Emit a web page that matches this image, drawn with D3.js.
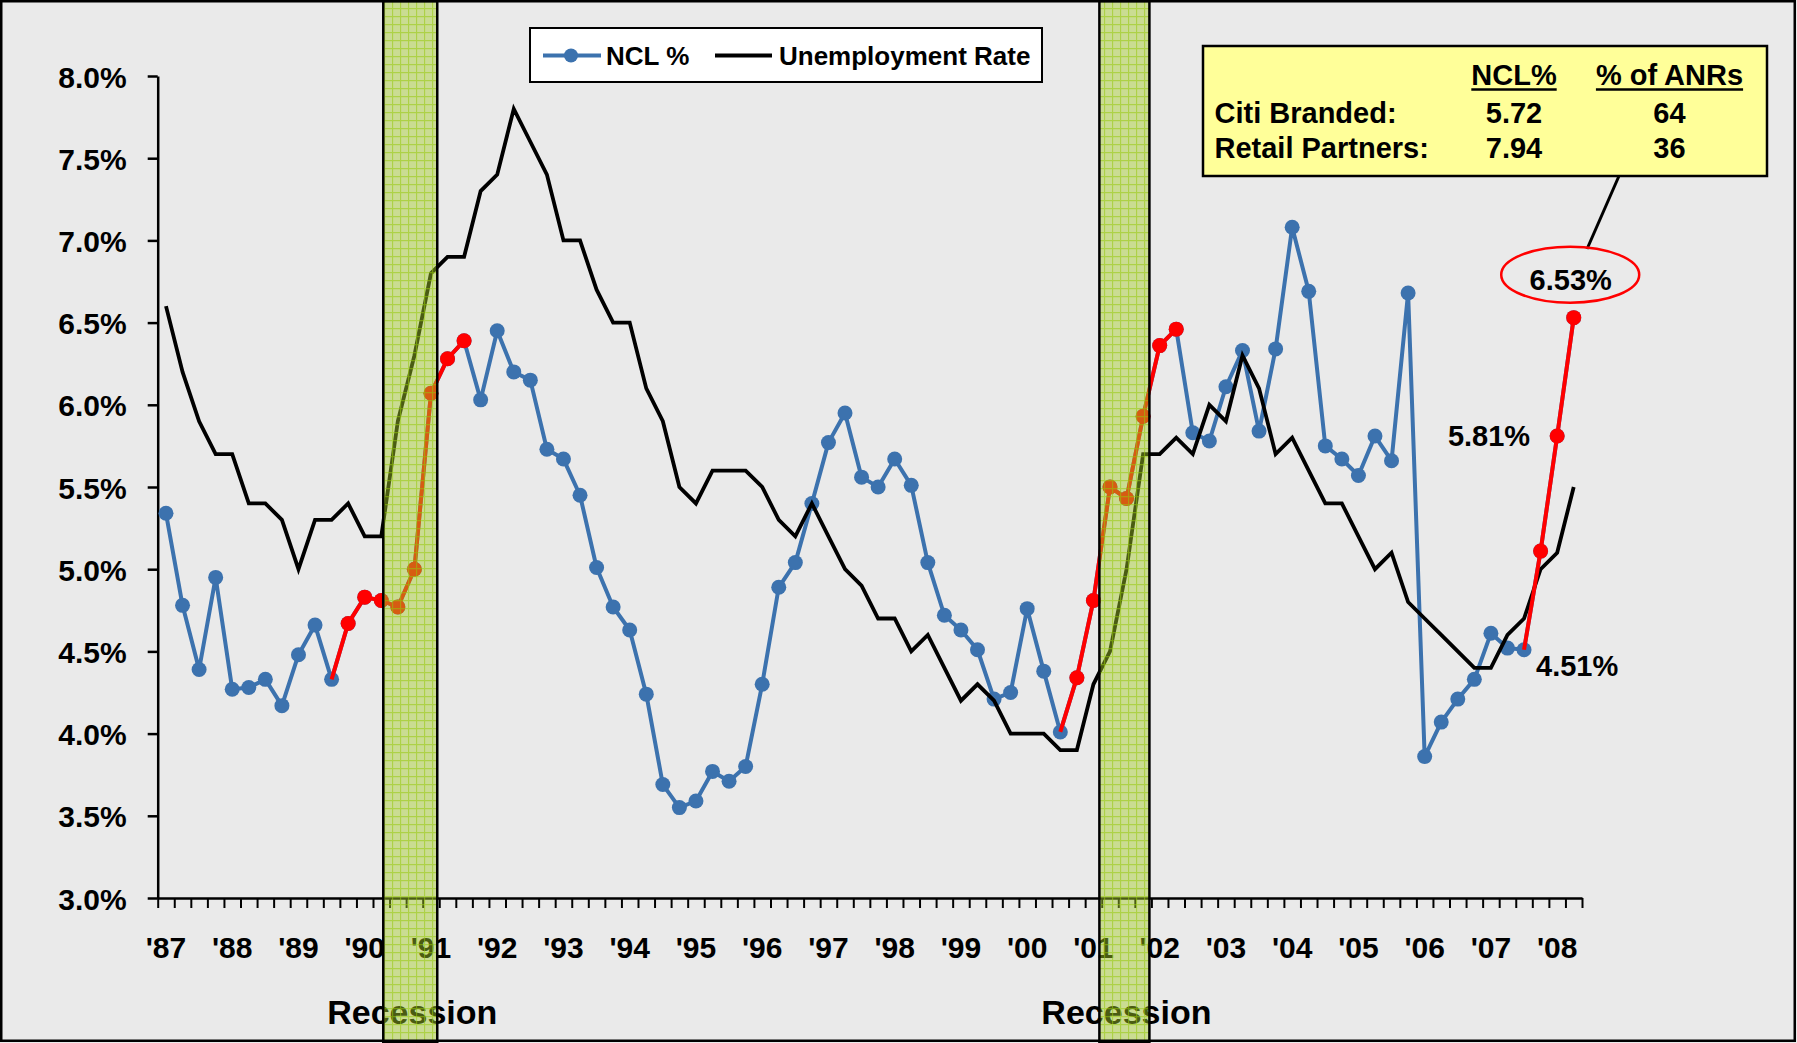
<!DOCTYPE html>
<html>
<head>
<meta charset="utf-8">
<script src="https://cdn.jsdelivr.net/npm/d3@7"></script>
<style>
body { margin: 0; background: #fff; }
text { font-family: "Liberation Sans", Arial, sans-serif; font-weight: bold; fill: #000; }
</style>
</head>
<body>
<div id="chart"></div>
<script>
// year labels, one per year, quarters 1Q87 .. 2Q08
var yearLabels = ["'87","'88","'89","'90","'91","'92","'93","'94","'95","'96","'97",
	"'98","'99","'00","'01","'02","'03","'04","'05","'06","'07","'08"];
var quartersInLastYear = 2;

// NCL % by quarter
var nclPct = [5.34, 4.78, 4.39, 4.95, 4.27, 4.28, 4.33, 4.17, 4.48, 4.66,
	4.33, 4.67, 4.83, 4.81, 4.77, 5.00, 6.07, 6.28, 6.39, 6.03,
	6.45, 6.20, 6.15, 5.73, 5.67, 5.45, 5.01, 4.77, 4.63, 4.24,
	3.69, 3.55, 3.59, 3.77, 3.71, 3.80, 4.30, 4.89, 5.04, 5.40,
	5.77, 5.95, 5.56, 5.50, 5.67, 5.51, 5.04, 4.72, 4.63, 4.51,
	4.21, 4.25, 4.76, 4.38, 4.01, 4.34, 4.81, 5.50, 5.43, 5.93,
	6.36, 6.46, 5.83, 5.78, 6.11, 6.33, 5.84, 6.34, 7.08, 6.69,
	5.75, 5.67, 5.57, 5.81, 5.66, 6.68, 3.86, 4.07, 4.21, 4.33,
	4.61, 4.52, 4.51, 5.11, 5.81, 6.53];

// unemployment rate by quarter
var unemployment = [6.6, 6.2, 5.9, 5.7, 5.7, 5.4, 5.4, 5.3, 5.0, 5.3,
	5.3, 5.4, 5.2, 5.2, 5.9, 6.3, 6.8, 6.9, 6.9, 7.3,
	7.4, 7.8, 7.6, 7.4, 7.0, 7.0, 6.7, 6.5, 6.5, 6.1,
	5.9, 5.5, 5.4, 5.6, 5.6, 5.6, 5.5, 5.3, 5.2, 5.4,
	5.2, 5.0, 4.9, 4.7, 4.7, 4.5, 4.6, 4.4, 4.2, 4.3,
	4.2, 4.0, 4.0, 4.0, 3.9, 3.9, 4.3, 4.5, 5.0, 5.7,
	5.7, 5.8, 5.7, 6.0, 5.9, 6.3, 6.1, 5.7, 5.8, 5.6,
	5.4, 5.4, 5.2, 5.0, 5.1, 4.8, 4.7, 4.6, 4.5, 4.4,
	4.4, 4.6, 4.7, 5.0, 5.1, 5.5];

// highlighted (red) stretches of the NCL line, first/last quarter index
var redRanges = [[10, 18], [54, 61], [82, 85]];

// recession shading, in quarters from the start of '87
var recessions = [[13.62, 16.88], [56.86, 59.88]];

var yTicks = [3.0, 3.5, 4.0, 4.5, 5.0, 5.5, 6.0, 6.5, 7.0, 7.5, 8.0];

// callout box
var boxHeader = ["NCL%", "% of ANRs"];
var boxRows = [["Citi Branded:", "5.72", "64"], ["Retail Partners:", "7.94", "36"]];

var quarters = [];
yearLabels.forEach(function(yl, k) {
	var n = (k == yearLabels.length - 1) ? quartersInLastYear : 4;
	for (var q = 1; q <= n; q++) quarters.push(q + "Q" + yl.slice(1));
});

var W = 1797, H = 1043;
var x0 = 157.7, x1 = 1582, yTop = 76, yBot = 898;

var svg = d3.select("#chart").append("svg")
	.attr("width", W).attr("height", H);

var defs = svg.append("defs");
var pat = defs.append("pattern").attr("id", "grid")
	.attr("width", 8).attr("height", 8).attr("patternUnits", "userSpaceOnUse");
pat.append("rect").attr("width", 8).attr("height", 8).attr("fill", "rgba(165,205,40,0.45)");
pat.append("path").attr("d", "M0,0.5H8M0.5,0V8")
	.attr("stroke", "rgba(150,200,10,0.55)").attr("stroke-width", 1.3);

svg.append("rect").attr("width", W).attr("height", H).attr("fill", "#eaeaea");

var x = d3.scaleBand().domain(quarters).range([x0, x1]);
var xq = d3.scaleLinear().domain([0, quarters.length]).range([x0, x1]);
var y = d3.scaleLinear().domain([3, 8]).range([yBot, yTop]);

function cx(i) { return x(quarters[i]) + x.bandwidth() / 2; }

// y axis
var yAxis = svg.append("g").attr("transform", "translate(" + x0 + ",0)")
	.call(d3.axisLeft(y).tickValues(yTicks).tickSize(10).tickSizeOuter(0).tickPadding(21)
		.tickFormat(function(d) { return d.toFixed(1) + "%"; }));
yAxis.selectAll("text").style("font-size", "30px").attr("dy", "0.37em");
yAxis.select(".domain").attr("stroke-width", 2.5);
yAxis.selectAll(".tick line").attr("stroke-width", 2.5);

// x axis: a tick at every quarter boundary
var xAxis = svg.append("g").attr("transform", "translate(0," + yBot + ")")
	.call(d3.axisBottom(xq).tickValues(d3.range(quarters.length + 1)).tickSize(10)
		.tickSizeOuter(0).tickFormat(""));
xAxis.select(".domain").attr("stroke-width", 2.5);
xAxis.selectAll(".tick line").attr("stroke-width", 2);

svg.append("g").selectAll("text")
	.data(yearLabels)
	.enter().append("text")
	.attr("x", function(d, k) { return cx(k * 4); })
	.attr("y", 958)
	.attr("text-anchor", "middle")
	.style("font-size", "30px")
	.text(function(d) { return d; });

// legend
var lg = svg.append("g");
lg.append("rect").attr("x", 530).attr("y", 28).attr("width", 512).attr("height", 54)
	.attr("fill", "#fff").attr("stroke", "#000").attr("stroke-width", 2);
lg.append("line").attr("x1", 543).attr("x2", 601).attr("y1", 55.5).attr("y2", 55.5)
	.attr("stroke", "#3c72ae").attr("stroke-width", 4);
lg.append("circle").attr("cx", 571).attr("cy", 55.5).attr("r", 7).attr("fill", "#3c72ae");
lg.append("text").attr("x", 606).attr("y", 64.5).style("font-size", "26px").text("NCL %");
lg.append("line").attr("x1", 715).attr("x2", 772).attr("y1", 55.5).attr("y2", 55.5)
	.attr("stroke", "#000").attr("stroke-width", 4);
lg.append("text").attr("x", 779).attr("y", 64.5).style("font-size", "26px").text("Unemployment Rate");

// NCL line (blue)
var lineNcl = d3.line().x(function(d, i) { return cx(i); }).y(function(d) { return y(d); });
svg.append("path").datum(nclPct).attr("d", lineNcl)
	.attr("fill", "none").attr("stroke", "#3c72ae").attr("stroke-width", 4)
	.attr("stroke-linejoin", "round");
svg.append("g").selectAll("circle").data(nclPct).enter().append("circle")
	.attr("cx", function(d, i) { return cx(i); })
	.attr("cy", function(d) { return y(d); })
	.attr("r", 7.5).attr("fill", "#3c72ae");

// unemployment line (black)
svg.append("path").datum(unemployment).attr("d", lineNcl)
	.attr("fill", "none").attr("stroke", "#000").attr("stroke-width", 3.8)
	.attr("stroke-linejoin", "miter");

// red stretches
redRanges.forEach(function(r) {
	var idx = d3.range(r[0], r[1] + 1);
	var seg = d3.line().x(function(i) { return cx(i); }).y(function(i) { return y(nclPct[i]); });
	svg.append("path").datum(idx).attr("d", seg)
		.attr("fill", "none").attr("stroke", "#ff0000").attr("stroke-width", 4);
	svg.append("g").selectAll("circle").data(idx.slice(1)).enter().append("circle")
		.attr("cx", function(i) { return cx(i); })
		.attr("cy", function(i) { return y(nclPct[i]); })
		.attr("r", 7.5).attr("fill", "#ff0000");
});

// value labels
var last = nclPct.length - 1;
svg.append("text").attr("x", cx(last - 1) - 27).attr("y", y(nclPct[last - 1]) + 10)
	.attr("text-anchor", "end").style("font-size", "29px").text(nclPct[last - 1].toFixed(2) + "%");
svg.append("text").attr("x", cx(last - 3) + 12).attr("y", y(nclPct[last - 3]) + 26)
	.style("font-size", "29px").text(nclPct[last - 3].toFixed(2) + "%");

// callout box
var bx = svg.append("g");
bx.append("line").attr("x1", 1619).attr("y1", 176).attr("x2", 1587).attr("y2", 249)
	.attr("stroke", "#000").attr("stroke-width", 3);
bx.append("rect").attr("x", 1203).attr("y", 46).attr("width", 564).attr("height", 130)
	.attr("fill", "#ffff99").attr("stroke", "#000").attr("stroke-width", 2.5);
var colX = [1214.5, 1514, 1669.5];
boxHeader.forEach(function(h, k) {
	var t = bx.append("text").attr("x", colX[k + 1]).attr("y", 85)
		.attr("text-anchor", "middle").style("font-size", "29px").text(h);
	var w = t.node().getComputedTextLength();
	bx.append("line").attr("x1", colX[k + 1] - w / 2).attr("x2", colX[k + 1] + w / 2)
		.attr("y1", 89.5).attr("y2", 89.5).attr("stroke", "#000").attr("stroke-width", 2.5);
});
boxRows.forEach(function(row, r) {
	row.forEach(function(cell, k) {
		bx.append("text").attr("x", colX[k]).attr("y", 122.5 + r * 35.8)
			.attr("text-anchor", k == 0 ? "start" : "middle")
			.style("font-size", "29px").text(cell);
	});
});

// circled last value
svg.append("ellipse").attr("cx", cx(last) - 3.5).attr("cy", y(nclPct[last]) - 43)
	.attr("rx", 69).attr("ry", 28)
	.attr("fill", "none").attr("stroke", "#ff0000").attr("stroke-width", 2.5);
svg.append("text").attr("x", cx(last) - 3).attr("y", y(nclPct[last]) - 28)
	.attr("text-anchor", "middle").style("font-size", "29px").text(nclPct[last].toFixed(2) + "%");

// recession labels (under the shading)
recessions.forEach(function(r) {
	svg.append("text").attr("x", xq((r[0] + r[1]) / 2) + 2).attr("y", 1024)
		.attr("text-anchor", "middle").style("font-size", "34px").text("Recession");
});

// recession shading on top
recessions.forEach(function(r) {
	svg.append("rect").attr("x", xq(r[0])).attr("y", 1)
		.attr("width", xq(r[1]) - xq(r[0])).attr("height", H - 2)
		.attr("fill", "url(#grid)").attr("stroke", "#000").attr("stroke-width", 2.5);
});

// chart frame
svg.append("rect").attr("x", 1.25).attr("y", 1.25).attr("width", W - 3.5).attr("height", H - 3.5)
	.attr("fill", "none").attr("stroke", "#000").attr("stroke-width", 2.5);
</script>
</body>
</html>
